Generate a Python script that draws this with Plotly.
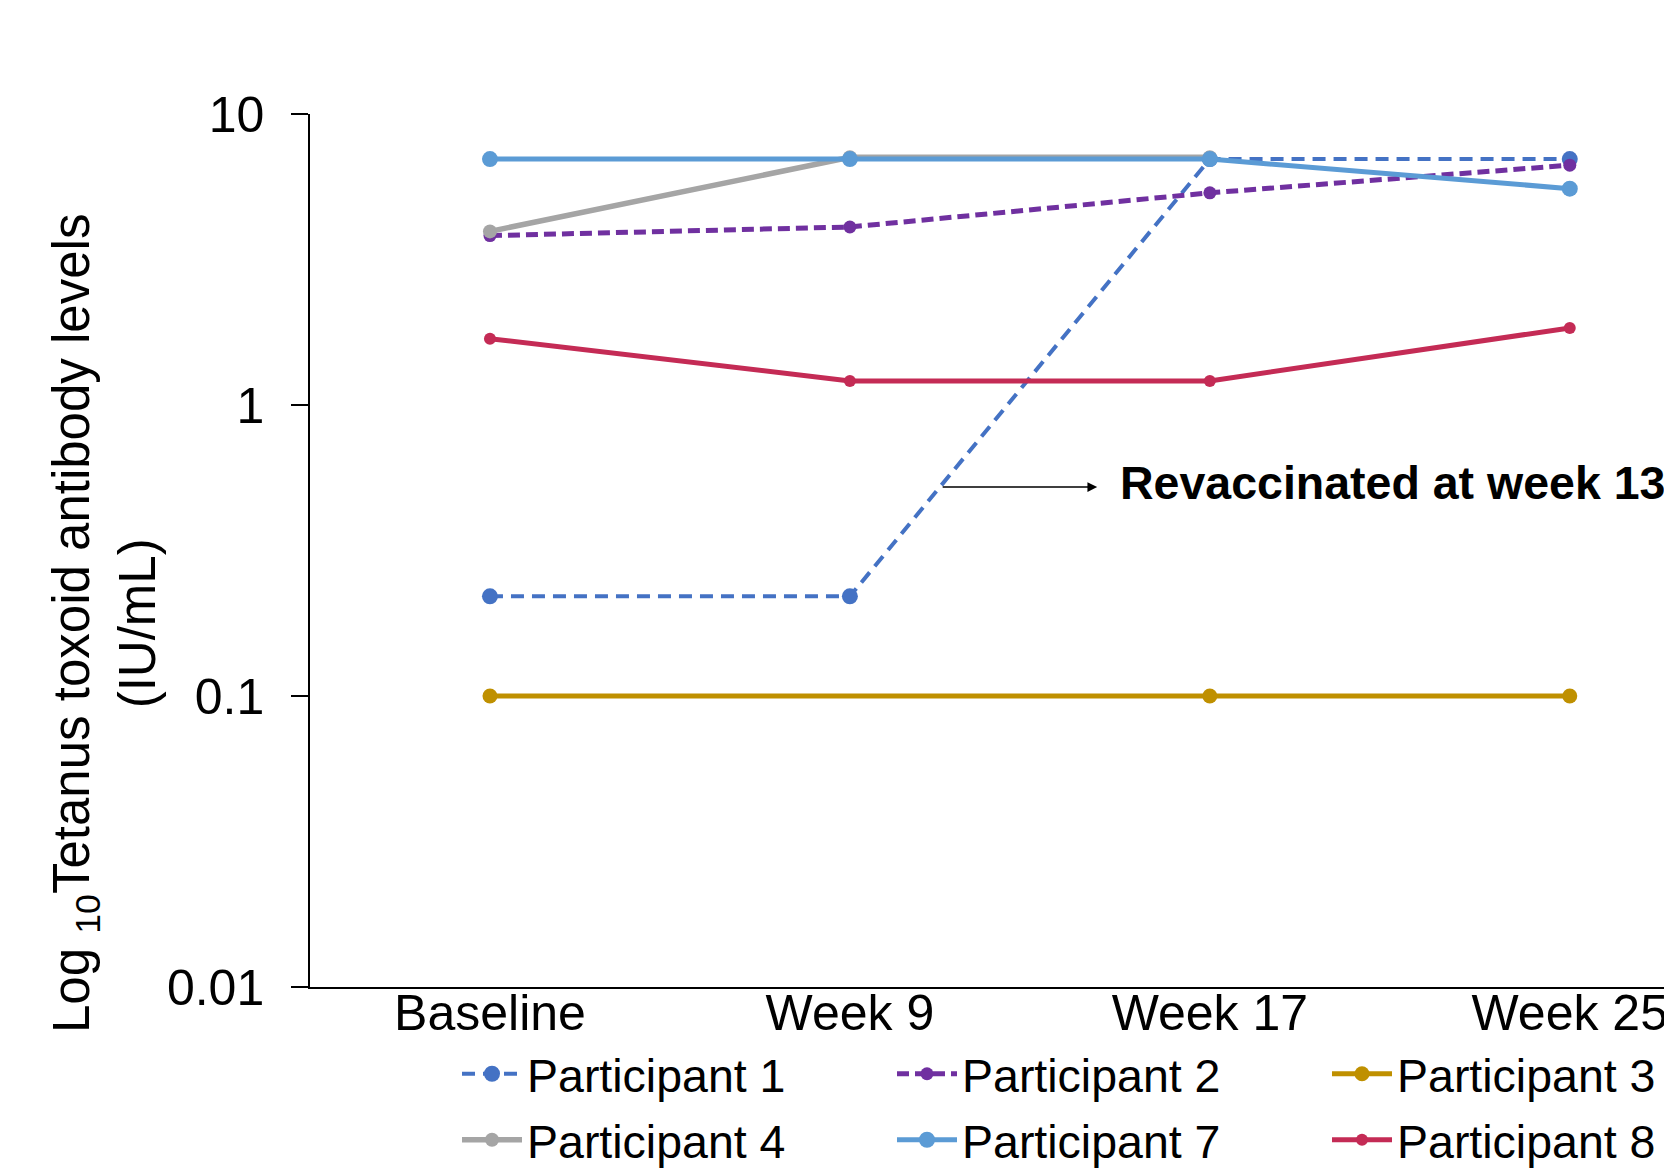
import plotly.graph_objects as go

categories = ["Baseline", "Week 9", "Week 17", "Week 25"]

p1 = [0.22, 0.22, 7.0, 7.0]
p2 = [3.82, 4.09, 5.36, 6.67]
p3 = [0.1, None, 0.1, 0.1]
p4 = [3.95, 7.1, 7.1, None]
p7 = [7.0, 7.0, 7.0, 5.54]
p8 = [1.69, 1.21, 1.21, 1.84]

series = [
    ("Participant 1", p1, "#4472C4", "13px,8px", 4, 16, "legend"),
    ("Participant 2", p2, "#7030A0", "12px,6px", 5, 13, "legend"),
    ("Participant 3", p3, "#BF9000", "solid", 5, 15, "legend"),
    ("Participant 4", p4, "#A5A5A5", "solid", 5.5, 14, "legend2"),
    ("Participant 7", p7, "#5B9BD5", "solid", 5, 16, "legend2"),
    ("Participant 8", p8, "#C42B55", "solid", 5, 12, "legend2"),
]

fig = go.Figure()
for name, vals, color, dash, width, msize, leg in series:
    fig.add_trace(go.Scatter(
        x=categories, y=vals, name=name, mode="lines+markers",
        connectgaps=True, legend=leg,
        line=dict(color=color, width=width, dash=dash),
        marker=dict(color=color, size=msize),
    ))

# page has an 8px body margin; figure sized so that it ends at the window edge
OFF = 8
W, H = 1672 - OFF, 1170 - OFF
L, T = 310 - OFF, 114 - OFF
PB = 987 - OFF           # plot bottom in figure px
R = 0
B = H - PB
pw = W - L - R
ph = PB - T

def py(page_y):
    return (PB - (page_y - OFF)) / ph

def px(page_x):
    return ((page_x - OFF) - L) / pw

leg_common = dict(
    orientation="h", x=px(457), xanchor="left",
    yanchor="middle",
    font=dict(size=46.5),
    itemwidth=60,
    entrywidth=360, entrywidthmode="pixels",
    bgcolor="rgba(0,0,0,0)",
)

fig.update_layout(
    width=W, height=H,
    margin=dict(l=L, r=R, t=T, b=B, autoexpand=False),
    paper_bgcolor="white", plot_bgcolor="white",
    font=dict(family="Liberation Sans, Arial, sans-serif", color="black", size=46),
    showlegend=True,
    legend=dict(y=py(1074), **leg_common),
    legend2=dict(y=py(1140), **leg_common),
    xaxis=dict(
        type="category", range=[-0.5, 3.284],
        showline=True, linecolor="black", linewidth=1.5,
        ticks="", showgrid=False, zeroline=False,
        tickfont=dict(size=50), automargin=False,
        ticklabelstandoff=-19,
    ),
    yaxis=dict(
        type="log", range=[-2, 1],
        tickvals=[0.01, 0.1, 1, 10], ticktext=["0.01", "0.1", "1", "10"],
        showline=True, linecolor="black", linewidth=1.5,
        ticks="outside", ticklen=17, tickcolor="black", tickwidth=1.5,
        showgrid=False, zeroline=False,
        tickfont=dict(size=50), automargin=False,
        ticklabelstandoff=17,
    ),
)

# Y axis title as annotation (two lines, subscript)
fig.add_annotation(
    xref="paper", yref="paper",
    x=px(104), y=py(624),
    text="Log <sub>10</sub>Tetanus toxoid antibody levels<br>(IU/mL)",
    textangle=-90, showarrow=False,
    font=dict(size=51, color="black"),
    xanchor="center", yanchor="middle",
)

# Arrow
fig.add_annotation(
    x=1.687, y=-0.282, xref="x", yref="y",
    ax=-156, ay=0, axref="pixel", ayref="pixel",
    text="", showarrow=True,
    arrowhead=2, arrowsize=1.3, arrowwidth=1.5, arrowcolor="black",
)

fig.add_annotation(
    x=1.745, y=-0.268, xref="x", yref="y",
    text="<b>Revaccinated at week 13</b>", showarrow=False,
    xanchor="left", yanchor="middle",
    font=dict(size=46.5, color="black"),
)

fig.write_html("out.html")
